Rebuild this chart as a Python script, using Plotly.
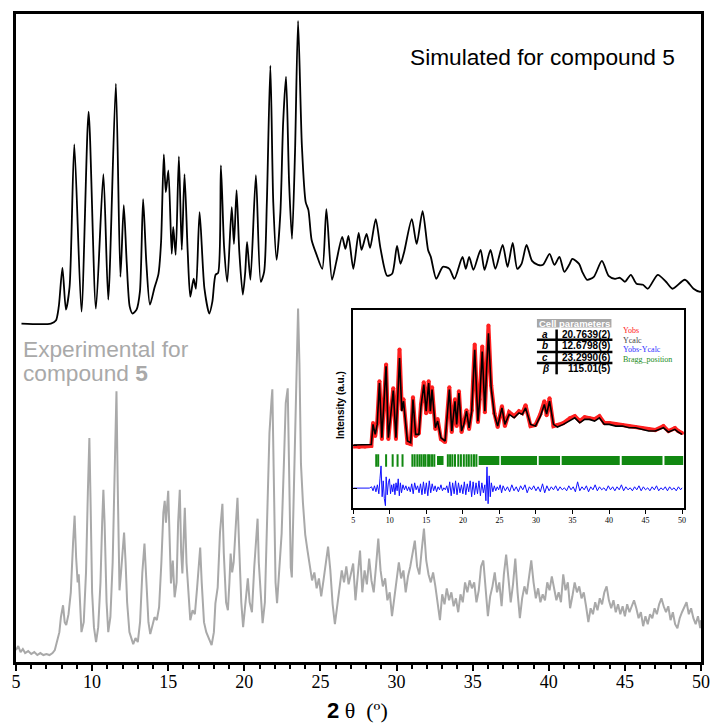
import plotly.graph_objects as go

# ---------------- data ----------------
# Main panel: 2theta (deg) and intensity (arbitrary units, 0 = axis)
sim_x = [5.36, 7.29, 7.62, 7.81, 8.05, 8.28, 8.52, 8.83, 9.30, 9.77,
         10.25, 10.74, 11.06, 11.56, 11.86, 12.08, 12.27, 12.47, 12.66, 12.92,
         13.14, 13.35, 13.56, 13.80, 14.08, 14.36, 14.53, 14.71, 14.84, 15.01,
         15.23, 15.33, 15.49, 15.70, 15.89, 16.07, 16.28, 16.45, 16.67, 16.82,
         17.06, 17.38, 17.70, 17.90, 18.11, 18.28, 18.46, 18.67, 18.88, 19.17,
         19.32, 19.49, 19.67, 19.90, 20.06, 20.18, 20.40, 20.76, 21.08, 21.30,
         21.48, 21.71, 21.90, 22.12, 22.37, 22.55, 22.74, 22.94, 23.13, 23.33,
         23.53, 23.78, 24.03, 24.21, 24.42, 24.75, 25.12, 25.39, 25.76, 26.04,
         26.43, 26.64, 26.84, 27.16, 27.51, 27.70, 28.03, 28.26, 28.63, 28.95,
         29.38, 29.71, 30.03, 30.26, 30.50, 31.00, 31.32, 31.71, 32.07, 32.25,
         32.61, 33.04, 33.47, 33.80, 34.33, 34.55, 34.77, 35.05, 35.52, 35.78,
         36.17, 36.49, 36.97, 37.29, 37.63, 37.93, 38.21, 38.54, 38.90, 39.29,
         39.62, 40.05, 40.37, 40.70, 41.02, 41.34, 41.55, 41.99, 42.20, 42.52,
         42.96, 43.49, 43.93, 44.35, 44.68, 45.00, 45.39, 45.76, 46.19, 46.51,
         47.16, 47.70, 48.13, 48.94, 49.51, 49.89, 50.00]
sim_y = [340, 340, 343, 357, 396, 354, 377, 520, 352, 553,
         355, 490, 364, 581, 387, 459, 402, 357, 350, 354,
         372, 465, 402, 359, 375, 390, 422, 510, 472, 494,
         410, 437, 409, 508, 414, 490, 412, 367, 385, 375,
         452, 375, 350, 362, 389, 391, 499, 417, 382, 457,
         420, 474, 412, 369, 392, 422, 384, 489, 382, 392,
         462, 599, 462, 404, 452, 542, 588, 482, 425, 512,
         644, 519, 462, 454, 424, 409, 395, 455, 384, 402,
         427, 415, 428, 395, 431, 414, 430, 416, 445, 415,
         388, 390, 418, 400, 412, 445, 420, 453, 414, 407,
         385, 397, 395, 385, 407, 395, 407, 394, 414, 394,
         414, 395, 419, 397, 421, 395, 400, 419, 403, 399,
         399, 410, 399, 407, 392, 399, 405, 400, 392, 384,
         387, 403, 388, 385, 386, 382, 389, 380, 379, 375,
         389, 382, 375, 384, 375, 372, 372]

exp_x = [5.00, 5.15, 5.30, 5.45, 5.60, 5.80, 6.00, 6.20, 6.40, 6.60,
         6.80, 7.00, 7.20, 7.40, 7.55, 7.70, 7.85, 7.95, 8.09, 8.20,
         8.30, 8.45, 8.60, 8.75, 8.85, 8.95, 9.05, 9.12, 9.20, 9.30,
         9.45, 9.60, 9.72, 9.82, 9.90, 10.00, 10.12, 10.26, 10.40, 10.55,
         10.66, 10.74, 10.82, 10.95, 11.06, 11.20, 11.35, 11.48, 11.60, 11.68,
         11.80, 11.90, 12.00, 12.10, 12.20, 12.30, 12.45, 12.60, 12.70, 12.85,
         13.00, 13.15, 13.30, 13.44, 13.55, 13.70, 13.82, 13.95, 14.10, 14.25,
         14.40, 14.55, 14.68, 14.77, 14.85, 15.00, 15.10, 15.18, 15.30, 15.42,
         15.55, 15.65, 15.76, 15.85, 15.93, 16.02, 16.09, 16.20, 16.35, 16.45,
         16.60, 16.75, 16.90, 17.00, 17.10, 17.20, 17.35, 17.50, 17.70, 17.85,
         18.00, 18.10, 18.25, 18.40, 18.56, 18.65, 18.80, 18.92, 19.02, 19.10,
         19.20, 19.30, 19.45, 19.55, 19.65, 19.80, 19.92, 20.05, 20.15, 20.23,
         20.35, 20.50, 20.65, 20.78, 20.87, 20.95, 21.10, 21.20, 21.35, 21.50,
         21.65, 21.78, 21.84, 21.92, 22.05, 22.15, 22.30, 22.45, 22.60, 22.72,
         22.85, 22.95, 23.05, 23.12, 23.22, 23.35, 23.45, 23.53, 23.62, 23.72,
         23.85, 24.00, 24.15, 24.30, 24.45, 24.60, 24.75, 24.90, 25.05, 25.20,
         25.35, 25.50, 25.65, 25.80, 25.95, 26.10, 26.25, 26.40, 26.55, 26.70,
         26.85, 27.00, 27.15, 27.30, 27.45, 27.60, 27.75, 27.90, 28.05, 28.20,
         28.35, 28.50, 28.65, 28.80, 28.95, 29.10, 29.25, 29.40, 29.55, 29.70,
         29.85, 30.00, 30.15, 30.30, 30.45, 30.60, 30.75, 30.90, 31.05, 31.20,
         31.35, 31.50, 31.65, 31.80, 31.95, 32.10, 32.25, 32.40, 32.55, 32.70,
         32.85, 33.00, 33.15, 33.30, 33.45, 33.60, 33.75, 33.90, 34.05, 34.20,
         34.35, 34.50, 34.65, 34.80, 34.95, 35.10, 35.25, 35.40, 35.55, 35.70,
         35.85, 36.00, 36.15, 36.30, 36.45, 36.60, 36.75, 36.90, 37.05, 37.20,
         37.35, 37.50, 37.65, 37.80, 37.95, 38.10, 38.25, 38.40, 38.55, 38.70,
         38.85, 39.00, 39.15, 39.30, 39.45, 39.60, 39.75, 39.90, 40.05, 40.20,
         40.35, 40.50, 40.65, 40.80, 40.95, 41.10, 41.25, 41.40, 41.55, 41.70,
         41.85, 42.00, 42.15, 42.30, 42.45, 42.60, 42.75, 42.90, 43.05, 43.20,
         43.35, 43.50, 43.65, 43.80, 43.95, 44.10, 44.25, 44.40, 44.55, 44.70,
         44.85, 45.00, 45.15, 45.30, 45.45, 45.60, 45.75, 45.90, 46.05, 46.20,
         46.35, 46.50, 46.65, 46.80, 46.95, 47.10, 47.25, 47.40, 47.55, 47.70,
         47.85, 48.00, 48.15, 48.30, 48.45, 48.60, 48.75, 48.90, 49.05, 49.20,
         49.35, 49.50, 49.65, 49.80, 49.95, 50.00]
exp_y = [12, 16, 10, 13, 9, 11, 8, 10, 7, 9,
         7, 8, 7, 9, 12, 20, 30, 45, 57, 40,
         37, 48, 70, 120, 147, 105, 80, 88, 55, 30,
         40, 90, 170, 225, 160, 70, 35, 20, 35, 80,
         140, 173, 140, 60, 30, 45, 100, 200, 272, 180,
         72, 90, 110, 130, 100, 60, 30, 22, 18, 24,
         20, 40, 90, 119, 80, 40, 28, 35, 45, 42,
         55, 100, 150, 162, 140, 172, 120, 79, 102, 65,
         80, 140, 173, 110, 89, 140, 155, 100, 60, 42,
         52, 48, 75, 100, 115, 80, 40, 30, 22, 17,
         30, 59, 75, 130, 159, 110, 60, 52, 80, 109,
         90, 100, 140, 165, 120, 60, 35, 55, 75, 84,
         60, 50, 95, 130, 144, 100, 55, 39, 60, 150,
         230, 262, 274, 200, 80, 59, 90, 129, 200, 260,
         275, 180, 95, 85, 150, 250, 330, 355, 300, 199,
         160, 128, 112, 96, 82, 90, 74, 84, 66, 82,
         98, 116, 92, 58, 38, 58, 72, 92, 80, 96,
         78, 88, 99, 62, 90, 112, 70, 92, 78, 104,
         82, 70, 96, 124, 92, 76, 84, 62, 70, 46,
         64, 82, 100, 84, 92, 70, 86, 96, 110, 122,
         96, 88, 112, 134, 102, 88, 80, 90, 76, 60,
         42, 68, 58, 74, 62, 70, 56, 64, 50, 68,
         60, 80, 70, 82, 74, 80, 60, 72, 96, 102,
         70, 46, 66, 76, 90, 70, 80, 56, 88, 108,
         84, 60, 78, 104, 70, 44, 64, 76, 68, 86,
         102, 80, 64, 74, 60, 68, 62, 80, 72, 86,
         74, 62, 70, 60, 88, 72, 80, 54, 66, 80,
         70, 76, 64, 70, 56, 40, 54, 48, 60, 52,
         64, 58, 70, 76, 62, 54, 62, 50, 58, 48,
         56, 46, 58, 50, 56, 62, 54, 44, 50, 36,
         46, 38, 48, 44, 54, 48, 58, 64, 56, 50,
         56, 42, 50, 38, 34, 44, 50, 56, 60, 48,
         54, 44, 38, 46, 34, 42]

x_ticks = [5, 10, 15, 20, 25, 30, 35, 40, 45, 50]

# Inset (Rietveld refinement)
inset_x = [5.0, 5.8, 6.6, 7.47, 7.70, 8.0, 8.27, 8.58, 8.91, 9.49,
           9.80, 10.47, 10.84, 11.33, 11.64, 11.87, 12.41, 12.86, 13.17, 13.53,
           13.98, 14.27, 14.65, 14.97, 15.32, 15.55, 15.78, 16.23, 16.54, 16.99,
           17.57, 18.15, 18.48, 18.92, 19.15, 19.46, 19.82, 20.13, 20.50, 20.85,
           21.21, 21.62, 22.06, 22.29, 22.65, 23.01, 23.23, 23.50, 23.87, 24.31,
           24.76, 25.35, 25.75, 26.33, 27.01, 27.68, 28.13, 28.58, 29.26, 29.93,
           30.61, 31.15, 31.46, 31.86, 32.40, 32.94, 33.75, 34.65, 35.32, 36.0,
           36.67, 37.35, 38.02, 38.69, 39.37, 40.04, 40.93, 41.83, 42.74, 43.63,
           44.53, 45.43, 46.32, 47.45, 48.13, 49.02, 49.47, 50.0]
inset_ycalc = [64, 64, 64, 64.5, 84.7, 74.7, 84.7, 126.3, 71.3, 143,
               71.3, 118.7, 71.3, 151.3, 98, 108, 68, 66.3, 109.7, 74.7,
               74.7, 103, 124.7, 98, 126.3, 98, 119.7, 81.3, 88, 71.3,
               68, 119.7, 78, 108, 84.7, 116.3, 78, 84.7, 98, 81.3,
               98, 159.7, 88, 108, 158, 98, 138, 176.3, 121.3, 94.7,
               83, 101.3, 84.7, 94.7, 91.3, 96.3, 94.7, 101.3, 84.7, 83,
               93, 104.7, 95, 108, 84.7, 82, 84.7, 88, 91.3, 86.3,
               89.7, 89.7, 88, 91.3, 84.7, 84.7, 83, 83, 81.3, 81.3,
               79.7, 78, 78, 81.3, 77, 79.7, 77, 74.7]
inset_yobs = [62.5, 62, 62.5, 63, 86, 73, 86, 128, 70, 145,
              70, 121, 70, 160, 100, 110, 66, 65, 112, 73,
              76, 105, 127, 96, 128, 97, 122, 80, 90, 70,
              67, 122, 77, 110, 83, 118, 77, 86, 99, 80,
              99, 165, 87, 110, 163, 97, 140, 184, 124, 96,
              82, 103, 83, 97, 93, 98, 96, 104, 83, 84,
              95, 108, 94, 111, 83, 84, 86, 91, 93, 88,
              92, 91, 90, 93, 86, 86, 85, 84, 83, 82,
              81, 80, 79, 83, 78, 81, 78, 76]

diff_x = [5.0, 7.2, 7.5, 7.7, 7.9, 8.1, 8.3, 8.5, 8.65, 8.8,
          8.95, 9.1, 9.25, 9.4, 9.5, 9.65, 9.8, 9.95, 10.1, 10.25,
          10.4, 10.55, 10.7, 10.85, 11.0, 11.15, 11.3, 11.45, 11.6, 11.8,
          12.0, 12.2, 12.4, 12.6, 12.8, 13.0, 13.2, 13.4, 13.6, 13.8,
          14.0, 14.2, 14.4, 14.6, 14.8, 15.0, 15.2, 15.4, 15.6, 15.8,
          16.0, 16.2, 16.4, 16.6, 16.8, 17.0, 17.2, 17.4, 17.6, 17.8,
          18.0, 18.2, 18.4, 18.6, 18.8, 19.0, 19.2, 19.4, 19.6, 19.8,
          20.0, 20.2, 20.4, 20.6, 20.8, 21.0, 21.2, 21.4, 21.6, 21.8,
          22.0, 22.2, 22.4, 22.6, 22.8, 23.0, 23.15, 23.3, 23.45, 23.6,
          23.75, 23.9, 24.1, 24.3, 24.5, 24.7, 24.9, 25.1, 25.3, 25.5,
          25.8, 26.1, 26.4, 26.7, 27.0, 27.3, 27.6, 27.9, 28.2, 28.5,
          28.8, 29.1, 29.4, 29.7, 30.0, 30.3, 30.6, 30.9, 31.2, 31.5,
          31.8, 32.1, 32.4, 32.7, 33.0, 33.3, 33.6, 33.9, 34.2, 34.5,
          34.8, 35.1, 35.4, 35.7, 36.0, 36.3, 36.6, 36.9, 37.2, 37.5,
          37.8, 38.1, 38.4, 38.7, 39.0, 39.3, 39.6, 39.9, 40.2, 40.5,
          40.8, 41.1, 41.4, 41.7, 42.0, 42.3, 42.6, 42.9, 43.2, 43.5,
          43.8, 44.1, 44.4, 44.7, 45.0, 45.3, 45.6, 45.9, 46.2, 46.5,
          46.8, 47.1, 47.4, 47.7, 48.0, 48.3, 48.6, 48.9, 49.2, 49.5,
          49.8, 50.0]
diff_y = [20.7, 20.7, 22, 18, 23, 17, 24, 15, 30, 43,
          12, 28, 10, 3, 32, 14, 26, 30, 15, 24,
          17, 25, 14, 26, 18, 30, 13, 26, 16, 24,
          19, 23, 18, 22, 17, 25, 15, 26, 19, 23,
          16, 25, 14, 27, 15, 26, 13, 28, 16, 25,
          18, 23, 17, 22, 19, 24, 18, 21, 19, 23,
          16, 27, 13, 26, 15, 28, 14, 26, 16, 24,
          15, 27, 14, 25, 17, 28, 12, 27, 14, 26,
          15, 28, 13, 26, 16, 24, 8, 42, 5, 33,
          12, 26, 17, 23, 18, 22, 19, 24, 16, 23,
          18, 22, 17, 24, 18, 22, 17, 23, 19, 24,
          16, 22, 19, 23, 18, 22, 17, 25, 16, 23,
          18, 22, 19, 23, 18, 22, 19, 21, 18, 23,
          19, 22, 17, 27, 18, 22, 19, 23, 17, 22,
          19, 24, 18, 22, 19, 21, 18, 23, 19, 22,
          18, 22, 19, 24, 18, 22, 19, 21, 18, 22,
          19, 23, 18, 22, 19, 21, 18, 22, 19, 23,
          18, 21, 19, 22, 18, 22, 19, 21, 18, 22,
          19, 21]

bragg_single_x = [8.14, 8.41, 9.49, 10.39, 11.06, 11.74, 13.09, 13.40, 13.76, 14.07,
                  14.34, 14.65, 14.88, 15.24, 15.46, 15.78, 16.09, 17.94, 18.25, 18.56,
                  18.92, 19.37, 19.73, 20.13, 20.50, 20.81, 21.17, 21.52, 21.85]
bragg_band_start = [16.46, 22.16, 25.20, 30.38, 33.52, 41.74, 47.59]
bragg_band_end = [17.35, 24.99, 30.15, 33.30, 41.47, 47.32, 50.15]
bragg_level = 48.5

cell_labels = ["<i>a</i>", "<i>b</i>", "<i>c</i>", "<i>β</i>"]
cell_values = ["20.7639(2)", "12.6798(9)", "23.2990(6)", "115.01(5)"]
legend_names = ["Yobs", "Ycalc", "Yobs-Ycalc", "Bragg_position"]
legend_colors = ["#ff2020", "#444444", "#3030ff", "#1a8c1a"]

# ---------------- geometry helpers (pixels -> paper) ----------------
W, H = 721, 724
L, R, T, B = 14, 11, 11, 62
PW, PH = W - L - R, H - T - B


def fx(px):
    return (px - L) / PW


def fy(py):
    return (H - B - py) / PH


fig = go.Figure()

# main traces
fig.add_trace(go.Scatter(x=exp_x, y=exp_y, mode="lines",
                         line=dict(color="#a9a9a9", width=2),
                         hoverinfo="skip", showlegend=False))
fig.add_trace(go.Scatter(x=sim_x, y=sim_y, mode="lines",
                         line=dict(color="black", width=1.8, shape="spline", smoothing=0.7),
                         hoverinfo="skip", showlegend=False))

# inset traces
fig.add_trace(go.Scatter(x=inset_x, y=inset_yobs, mode="lines+markers",
                         line=dict(color="#ff2020", width=4),
                         marker=dict(color="#ff2020", size=4),
                         xaxis="x2", yaxis="y2", hoverinfo="skip", showlegend=False))
fig.add_trace(go.Scatter(x=inset_x, y=inset_ycalc, mode="lines",
                         line=dict(color="black", width=1.6),
                         xaxis="x2", yaxis="y2", hoverinfo="skip", showlegend=False))
fig.add_trace(go.Scatter(x=diff_x, y=diff_y, mode="lines",
                         line=dict(color="#1010ff", width=1),
                         xaxis="x2", yaxis="y2", hoverinfo="skip", showlegend=False))

band_x, band_y = [], []
for s, e in zip(bragg_band_start, bragg_band_end):
    band_x += [s, e, None]
    band_y += [bragg_level, bragg_level, None]
fig.add_trace(go.Scatter(x=band_x, y=band_y, mode="lines",
                         line=dict(color="#118811", width=9),
                         xaxis="x2", yaxis="y2", hoverinfo="skip", showlegend=False))
fig.add_trace(go.Scatter(x=bragg_single_x, y=[bragg_level] * len(bragg_single_x), mode="markers",
                         marker=dict(symbol="line-ns", size=9,
                                     line=dict(color="#118811", width=2)),
                         xaxis="x2", yaxis="y2", hoverinfo="skip", showlegend=False))

# ---------------- decorations ----------------
shapes = []
shapes.append(dict(type="rect", xref="paper", yref="paper",
                   x0=fx(543.3), x1=fx(619), y0=fy(326), y1=fy(317.5),
                   fillcolor="#a8a8a8", line=dict(width=0)))
for py in [338.3, 350.5, 361.7]:
    shapes.append(dict(type="line", xref="paper", yref="paper",
                       x0=fx(543.3), x1=fx(620), y0=fy(py), y1=fy(py),
                       line=dict(color="black", width=2.5)))
shapes.append(dict(type="line", xref="paper", yref="paper",
                   x0=fx(563.3), x1=fx(563.3), y0=fy(328), y1=fy(373),
                   line=dict(color="black", width=2.5)))

ann = []
ann.append(dict(text="Simulated for compound 5", xref="paper", yref="paper",
                x=fx(686), y=fy(54), xanchor="right", yanchor="middle", showarrow=False,
                font=dict(family="Liberation Sans", size=22.7, color="black")))
ann.append(dict(text="Experimental for", xref="paper", yref="paper",
                x=fx(19), y=fy(348), xanchor="left", yanchor="middle", showarrow=False,
                font=dict(family="Liberation Sans", size=22.7, color="#a9a9a9")))
ann.append(dict(text="compound <b>5</b>", xref="paper", yref="paper",
                x=fx(19), y=fy(372), xanchor="left", yanchor="middle", showarrow=False,
                font=dict(family="Liberation Sans", size=22.7, color="#a9a9a9")))
ann.append(dict(text='<span style="font-family:Liberation Sans"><b>2</b></span> θ  (º)',
                xref="paper", yref="paper", x=fx(361), y=fy(711),
                xanchor="center", yanchor="middle", showarrow=False,
                font=dict(family="Liberation Serif", size=22, color="black")))
ann.append(dict(text="<b>Intensity (a.u.)</b>", xref="paper", yref="paper",
                x=fx(343), y=fy(404), xanchor="center", yanchor="middle", showarrow=False,
                textangle=-90, font=dict(family="Liberation Sans", size=10, color="black")))
ann.append(dict(text="<b>Cell parameters</b>", xref="paper", yref="paper",
                x=fx(581), y=fy(321.8), xanchor="center", yanchor="middle", showarrow=False,
                font=dict(family="Liberation Sans", size=9.5, color="white")))
row_py = [333.3, 344.5, 356.0, 367.5]
for lab, val, py in zip(cell_labels, cell_values, row_py):
    ann.append(dict(text="<b>" + lab + "</b>", xref="paper", yref="paper",
                    x=fx(552), y=fy(py), xanchor="center", yanchor="middle", showarrow=False,
                    font=dict(family="Liberation Sans", size=10, color="black")))
    ann.append(dict(text="<b>" + val + "</b>", xref="paper", yref="paper",
                    x=fx(620), y=fy(py), xanchor="right", yanchor="middle", showarrow=False,
                    font=dict(family="Liberation Sans", size=10, color="black")))
leg_py = [329.3, 339.0, 348.5, 358.3]
for name, col, py in zip(legend_names, legend_colors, leg_py):
    ann.append(dict(text=name, xref="paper", yref="paper",
                    x=fx(629), y=fy(py), xanchor="left", yanchor="middle", showarrow=False,
                    font=dict(family="Liberation Serif", size=8, color=col)))

fig.update_layout(
    width=W, height=H, autosize=False,
    margin=dict(l=L, r=R, t=T, b=B, pad=0),
    paper_bgcolor="white", plot_bgcolor="white",
    showlegend=False,
    xaxis=dict(range=[5, 50], tickvals=x_ticks, ticktext=[str(v) for v in x_ticks],
               ticks="outside", ticklen=6, tickwidth=2, tickcolor="black",
               ticklabelstandoff=-4,
               minor=dict(dtick=1, tick0=5, ticks="outside", ticklen=4, tickwidth=1.5, tickcolor="black"),
               showline=True, linewidth=2.5, linecolor="black", mirror=True,
               showgrid=False, zeroline=False,
               tickfont=dict(family="Liberation Serif", size=18, color="black")),
    yaxis=dict(range=[0, 651], showticklabels=False, ticks="",
               showline=True, linewidth=2.5, linecolor="black", mirror=True,
               showgrid=False, zeroline=False),
    xaxis2=dict(domain=[fx(356.7), fx(693)], anchor="y2", range=[5, 50.3],
                tickvals=x_ticks, ticktext=[str(v) for v in x_ticks],
                ticks="outside", ticklen=4, tickwidth=1, tickcolor="black",
                showline=True, linewidth=2, linecolor="black", mirror=True,
                showgrid=False, zeroline=False,
                tickfont=dict(family="Liberation Serif", size=8, color="black")),
    yaxis2=dict(domain=[fy(507), fy(308)], anchor="x2", range=[1, 200],
                tickvals=[20.7, 64], showticklabels=False,
                ticks="inside", ticklen=4, tickwidth=1, tickcolor="black",
                showline=True, linewidth=2, linecolor="black", mirror=True,
                showgrid=False, zeroline=False),
    shapes=shapes, annotations=ann,
)

fig.write_html("out.html", config={"responsive": False})
